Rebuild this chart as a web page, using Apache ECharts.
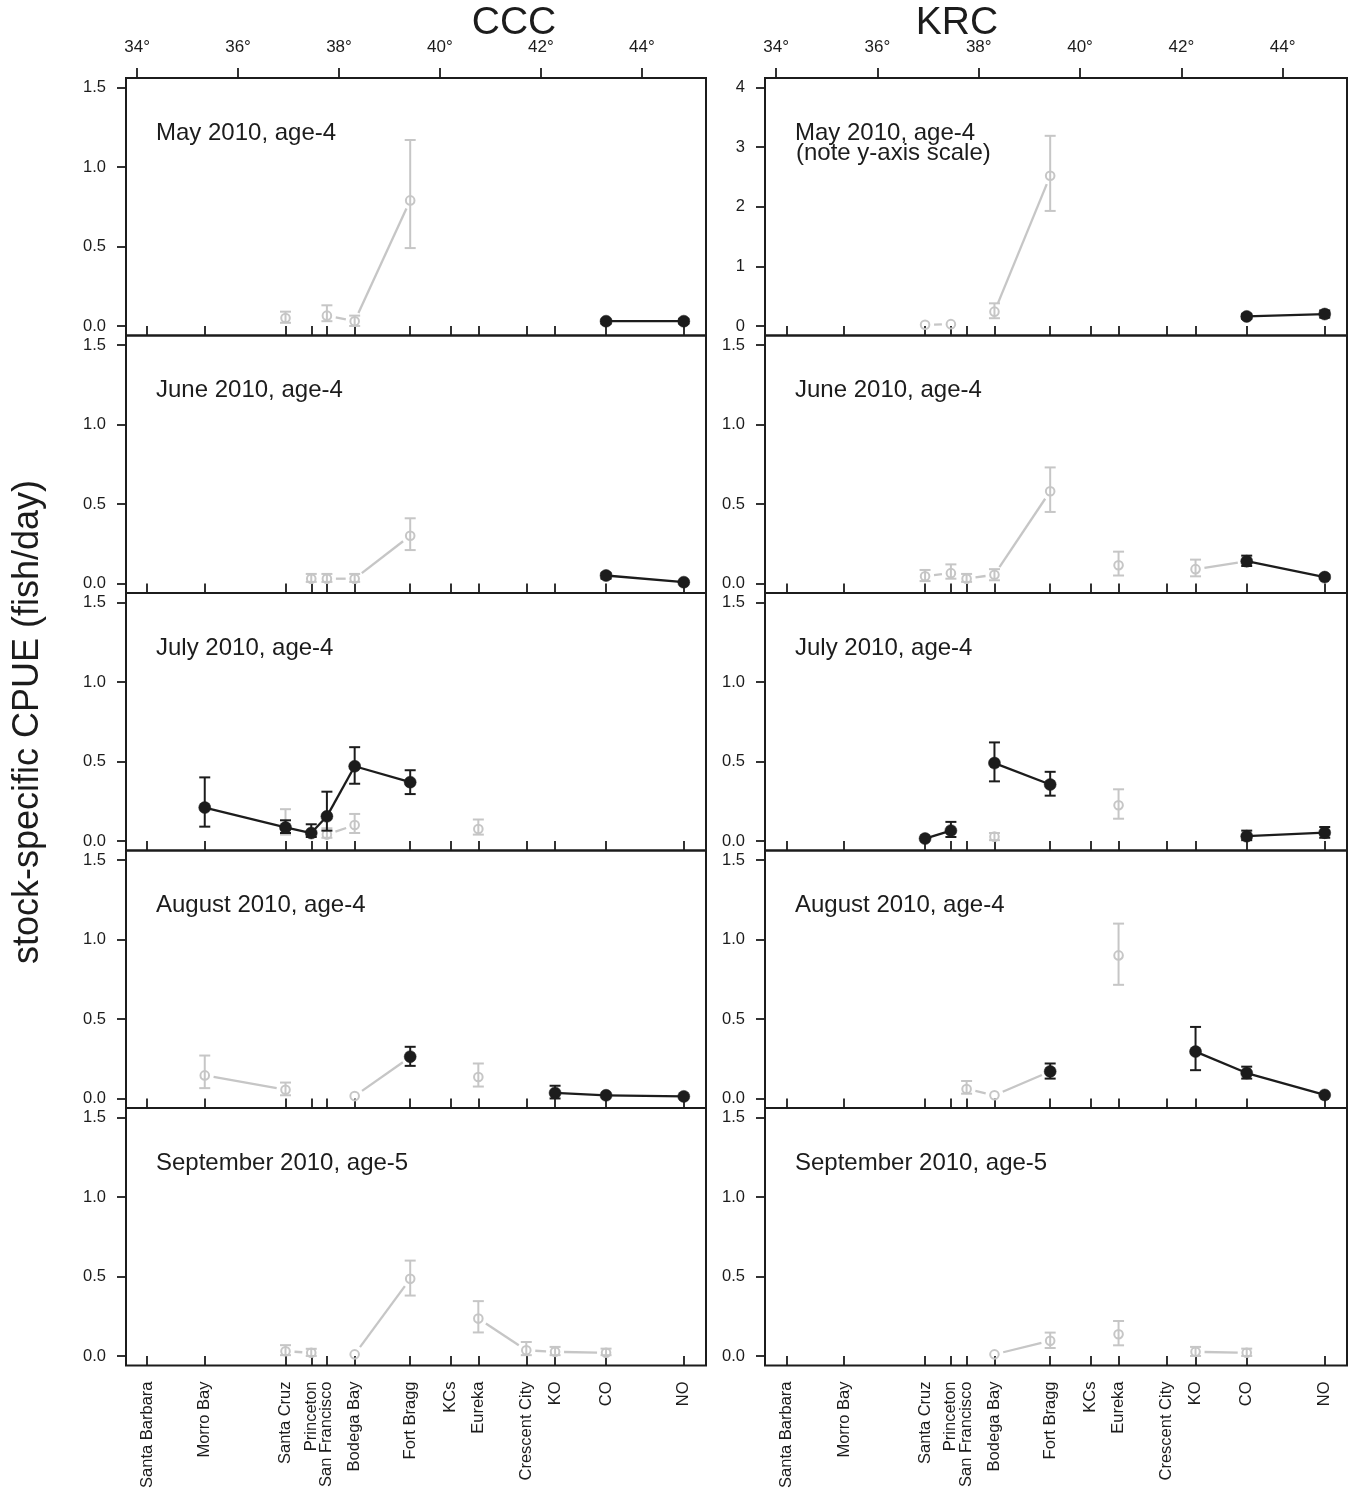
<!DOCTYPE html>
<html>
<head>
<meta charset="utf-8">
<title>stock-specific CPUE</title>
<script src="https://cdn.jsdelivr.net/npm/echarts@6/dist/echarts.min.js"></script>
<style>
    html, body { margin: 0; padding: 0; background: #fff; }
    #main { width: 1351px; height: 1492px; }
</style>
</head>
<body>
<div id="main"></div>
<script>
var sites = ['Santa Barbara', 'Morro Bay', 'Santa Cruz', 'Princeton', 'San Francisco', 'Bodega Bay',
    'Fort Bragg', 'KCs', 'Eureka', 'Crescent City', 'KO', 'CO', 'NO'];
var siteLat = [34.2, 35.34, 36.94, 37.45, 37.76, 38.31, 39.41, 40.21, 40.76, 41.71, 42.28, 43.29, 44.83];
var degTicks = [34, 36, 38, 40, 42, 44];
var cpueTicks = [0, 0.5, 1, 1.5];
var cpueTicksWide = [0, 1, 2, 3, 4];
var monthLabels = ['May 2010, age-4', 'June 2010, age-4', 'July 2010, age-4', 'August 2010, age-4', 'September 2010, age-5'];

// [site, cpue, lower, upper]  (lower/upper null = no error bar)
var cccMayGray = [['Santa Cruz', 0.05, 0.02, 0.09], ['San Francisco', 0.065, 0.03, 0.13], ['Bodega Bay', 0.03, 0.0, 0.065], ['Fort Bragg', 0.79, 0.49, 1.17]];
var cccMayBlack = [['CO', 0.03, 0.015, 0.04], ['NO', 0.03, 0.015, 0.045]];
var krcMayGray = [['Santa Cruz', 0.02, null, null], ['Princeton', 0.03, null, null], ['Bodega Bay', 0.24, 0.13, 0.38], ['Fort Bragg', 2.52, 1.93, 3.19]];
var krcMayBlack = [['CO', 0.16, 0.12, 0.2], ['NO', 0.2, 0.14, 0.26]];

var cccJunGray = [['Princeton', 0.03, 0.01, 0.06], ['San Francisco', 0.03, 0.01, 0.06], ['Bodega Bay', 0.03, 0.01, 0.06], ['Fort Bragg', 0.3, 0.21, 0.41]];
var cccJunBlack = [['CO', 0.05, 0.03, 0.065], ['NO', 0.008, null, null]];
var krcJunGray = [['Santa Cruz', 0.045, 0.015, 0.085], ['Princeton', 0.065, 0.03, 0.12], ['San Francisco', 0.03, 0.01, 0.06], ['Bodega Bay', 0.055, 0.02, 0.09],
    ['Fort Bragg', 0.58, 0.45, 0.73], ['Eureka', 0.115, 0.05, 0.2], ['KO', 0.09, 0.045, 0.15], ['CO', 0.14, null, null]];
var krcJunBlack = [['CO', 0.14, 0.11, 0.175], ['NO', 0.04, 0.03, 0.055]];

var cccJulGray = [['Santa Cruz', 0.09, 0.04, 0.2], ['San Francisco', 0.04, 0.02, 0.08], ['Bodega Bay', 0.1, 0.05, 0.17], ['Eureka', 0.075, 0.04, 0.135]];
var cccJulBlack = [['Morro Bay', 0.21, 0.09, 0.4], ['Santa Cruz', 0.085, 0.05, 0.13], ['Princeton', 0.05, 0.025, 0.105], ['San Francisco', 0.155, 0.065, 0.31],
    ['Bodega Bay', 0.47, 0.36, 0.59], ['Fort Bragg', 0.37, 0.295, 0.445]];
var krcJulGray = [['Bodega Bay', 0.027, 0.005, 0.05], ['Eureka', 0.225, 0.14, 0.325]];
var krcJulBlack = [['Santa Cruz', 0.015, null, null], ['Princeton', 0.065, 0.025, 0.12], ['Bodega Bay', 0.49, 0.375, 0.62], ['Fort Bragg', 0.355, 0.285, 0.435],
    ['CO', 0.03, 0.005, 0.065], ['NO', 0.052, 0.02, 0.088]];

var cccAugGray = [['Morro Bay', 0.145, 0.065, 0.27], ['Santa Cruz', 0.055, 0.02, 0.1], ['Bodega Bay', 0.015, null, null], ['Fort Bragg', 0.26, null, null], ['Eureka', 0.135, 0.075, 0.22]];
var cccAugBlack = [['Fort Bragg', 0.263, 0.205, 0.325], ['KO', 0.035, 0.0, 0.08], ['CO', 0.02, null, null], ['NO', 0.013, null, null]];
var krcAugGray = [['San Francisco', 0.06, 0.03, 0.11], ['Bodega Bay', 0.02, null, null], ['Fort Bragg', 0.17, null, null], ['Eureka', 0.9, 0.715, 1.1]];
var krcAugBlack = [['Fort Bragg', 0.17, 0.125, 0.22], ['KO', 0.295, 0.178, 0.45], ['CO', 0.16, 0.125, 0.2], ['NO', 0.022, null, null]];

var cccSepGray = [['Santa Cruz', 0.03, 0.005, 0.068], ['Princeton', 0.02, 0.0, 0.045], ['Bodega Bay', 0.01, null, null], ['Fort Bragg', 0.485, 0.38, 0.6],
    ['Eureka', 0.235, 0.148, 0.345], ['Crescent City', 0.036, 0.005, 0.088], ['KO', 0.026, 0.005, 0.057], ['CO', 0.02, 0.005, 0.046]];
var cccSepBlack = [];
var krcSepGray = [['Bodega Bay', 0.01, null, null], ['Fort Bragg', 0.095, 0.05, 0.147], ['Eureka', 0.137, 0.067, 0.22], ['KO', 0.026, 0.0, 0.057], ['CO', 0.02, 0.0, 0.046]];
var krcSepBlack = [];

var GRAY = '#c6c6c6', DARK = '#1c1c1c';
var FONT = '"Liberation Sans", Arial, Helvetica, sans-serif';

var panels = [
    [cccMayGray, cccMayBlack, krcMayGray, krcMayBlack],
    [cccJunGray, cccJunBlack, krcJunGray, krcJunBlack],
    [cccJulGray, cccJulBlack, krcJulGray, krcJulBlack],
    [cccAugGray, cccAugBlack, krcAugGray, krcAugBlack],
    [cccSepGray, cccSepBlack, krcSepGray, krcSepBlack]
];

// turn [site, v, lo, hi] rows into [lat, v, lo, hi, nextLat, nextV, hasNext]
var toItems = function (rows) {
    return rows.map(function (r, i) {
        var idx = sites.indexOf(r[0]);
        var nxt = rows[i + 1];
        var linked = nxt && sites.indexOf(nxt[0]) === idx + 1;
        var lo = r[2] == null ? r[1] : r[2];
        var hi = r[3] == null ? r[1] : r[3];
        return [siteLat[idx], r[1], lo, hi,
            linked ? siteLat[idx + 1] : siteLat[idx], linked ? nxt[1] : r[1], linked ? 1 : 0];
    });
};

var makeRender = function (color, filled, gap) {
    return function (params, api) {
        var p = api.coord([api.value(0), api.value(1)]);
        var children = [];
        if (api.value(6)) {
            var q = api.coord([api.value(4), api.value(5)]);
            var dx = q[0] - p[0], dy = q[1] - p[1];
            var len = Math.sqrt(dx * dx + dy * dy);
            if (len > 2 * gap + 2) {
                var ux = dx / len, uy = dy / len;
                children.push({
                    type: 'line',
                    shape: { x1: p[0] + ux * gap, y1: p[1] + uy * gap, x2: q[0] - ux * gap, y2: q[1] - uy * gap },
                    style: { stroke: color, lineWidth: 2.3 }
                });
            }
        }
        if (api.value(3) > api.value(2)) {
            var lo = api.coord([api.value(0), api.value(2)]);
            var hi = api.coord([api.value(0), api.value(3)]);
            var cw = 5.5;
            [[p[0], lo[1], p[0], hi[1]], [p[0] - cw, lo[1], p[0] + cw, lo[1]], [p[0] - cw, hi[1], p[0] + cw, hi[1]]].forEach(function (s) {
                children.push({
                    type: 'line',
                    shape: { x1: s[0], y1: s[1], x2: s[2], y2: s[3] },
                    style: { stroke: color, lineWidth: 2 }
                });
            });
        }
        children.push({
            type: 'circle',
            shape: { cx: p[0], cy: p[1], r: filled ? 6 : 4.3 },
            style: filled ? { fill: color, stroke: color, lineWidth: 0.5 } : { fill: 'none', stroke: color, lineWidth: 2 }
        });
        return { type: 'group', children: children };
    };
};

var grids = [], xAxes = [], yAxes = [], series = [], graphics = [];
var colLeft = [126, 765], colWidth = [580, 582];
var rowTop = 78, rowH = 257.5;

panels.forEach(function (row, r) {
    [0, 1].forEach(function (c) {
        var gi = grids.length;
        var wide = (r === 0 && c === 1);
        grids.push({
            left: colLeft[c], top: rowTop + r * rowH, width: colWidth[c], height: rowH,
            show: true, borderColor: DARK, borderWidth: 2, backgroundColor: 'transparent'
        });
        xAxes.push({
            type: 'value', gridIndex: gi, position: 'bottom', min: 33.78, max: 45.27,
            axisLine: { show: false },
            splitLine: { show: false },
            axisTick: { show: true, customValues: siteLat, length: 10, lineStyle: { color: DARK, width: 1.8 } },
            axisLabel: {
                show: r === 4, customValues: siteLat, rotate: 90, margin: 16,
                fontSize: 16.5, fontFamily: FONT, color: DARK,
                formatter: function (v) {
                    var best = 0;
                    siteLat.forEach(function (l, i) { if (Math.abs(l - v) < Math.abs(siteLat[best] - v)) best = i; });
                    return sites[best];
                }
            }
        });
        var yMin = wide ? -0.16 : -0.06, yMax = wide ? 4.16 : 1.56;
        yAxes.push({
            type: 'value', gridIndex: gi, min: yMin, max: yMax,
            axisLine: { show: false },
            splitLine: { show: false },
            axisTick: { show: true, customValues: wide ? cpueTicksWide : cpueTicks, length: 9, lineStyle: { color: DARK, width: 1.8 } },
            axisLabel: {
                customValues: wide ? cpueTicksWide : cpueTicks, margin: 20,
                fontSize: 16.5, fontFamily: FONT, color: DARK,
                formatter: function (v) { return wide ? String(Math.round(v)) : v.toFixed(1); }
            }
        });
        series.push({
            type: 'custom', xAxisIndex: gi, yAxisIndex: gi, silent: true, z: 2,
            renderItem: makeRender(GRAY, false, 9),
            data: toItems(row[c * 2])
        });
        series.push({
            type: 'custom', xAxisIndex: gi, yAxisIndex: gi, silent: true, z: 3,
            renderItem: makeRender(DARK, true, 0),
            data: toItems(row[c * 2 + 1])
        });
        graphics.push({
            type: 'text', x: colLeft[c] + 30, y: rowTop + r * rowH + 55,
            style: { text: monthLabels[r], fontSize: 24, fontFamily: FONT, fill: DARK, align: 'left', verticalAlign: 'middle' }
        });
    });
});

// latitude axis on top of the first row
[0, 1].forEach(function (c) {
    xAxes.push({
        type: 'value', gridIndex: c, position: 'top', min: 33.78, max: 45.27,
        axisLine: { show: false },
        splitLine: { show: false },
        axisTick: { show: true, customValues: degTicks, length: 10, lineStyle: { color: DARK, width: 1.8 } },
        axisLabel: {
            customValues: degTicks, margin: 22, fontSize: 17, fontFamily: FONT, color: DARK,
            formatter: function (v) { return v + '°'; }
        }
    });
});

graphics.push({
    type: 'text', x: 796, y: 153,
    style: { text: '(note y-axis scale)', fontSize: 24, fontFamily: FONT, fill: DARK, align: 'left', verticalAlign: 'middle' }
});
graphics.push({
    type: 'text', x: 514, y: 23,
    style: { text: 'CCC', fontSize: 39, fontFamily: FONT, fill: DARK, align: 'center', verticalAlign: 'middle' }
});
graphics.push({
    type: 'text', x: 957, y: 23,
    style: { text: 'KRC', fontSize: 39, fontFamily: FONT, fill: DARK, align: 'center', verticalAlign: 'middle' }
});
graphics.push({
    type: 'text', x: 28, y: 722, rotation: Math.PI / 2,
    style: { text: 'stock-specific CPUE (fish/day)', fontSize: 36, fontFamily: FONT, fill: DARK, align: 'center', verticalAlign: 'middle' }
});

var chart = echarts.init(document.getElementById('main'));
chart.setOption({
    animation: false,
    backgroundColor: '#fff',
    grid: grids,
    xAxis: xAxes,
    yAxis: yAxes,
    series: series,
    graphic: graphics
});
window.onresize = function () {
    chart.resize();
};
</script>
</body>
</html>
